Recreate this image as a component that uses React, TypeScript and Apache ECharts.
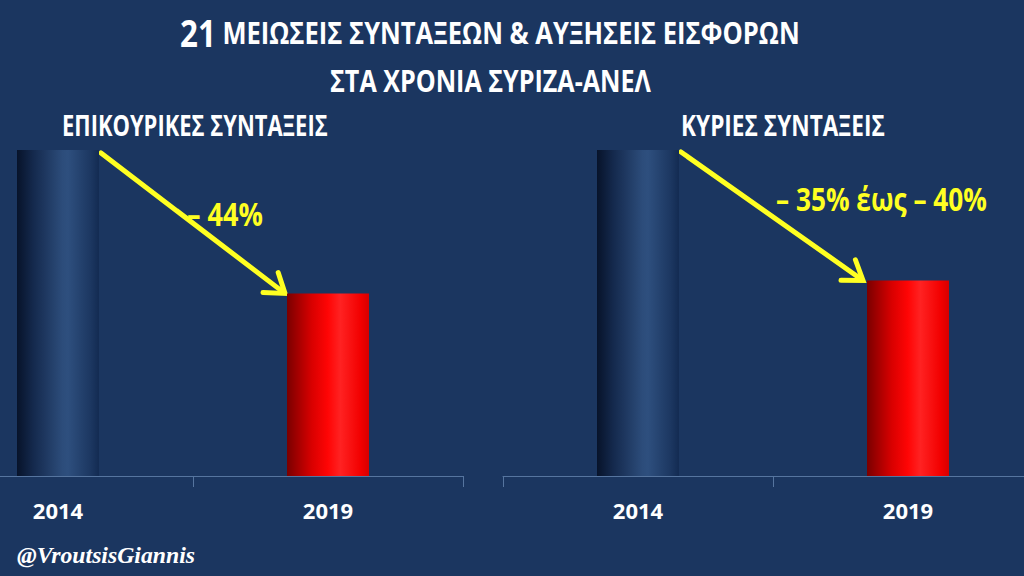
import React, { useEffect, useRef } from "react";
import * as echarts from "echarts";

const categories = ["2014", "2019"];
const auxiliaryPensions = [100, 56];
const mainPensions = [100, 60];
const titleNumber = "21";
const titleLine1 = "ΜΕΙΩΣΕΙΣ ΣΥΝΤΑΞΕΩΝ & ΑΥΞΗΣΕΙΣ ΕΙΣΦΟΡΩΝ";
const titleLine2 = "ΣΤΑ ΧΡΟΝΙΑ ΣΥΡΙΖΑ-ΑΝΕΛ";
const leftTitle = "ΕΠΙΚΟΥΡΙΚΕΣ ΣΥΝΤΑΞΕΙΣ";
const rightTitle = "ΚΥΡΙΕΣ ΣΥΝΤΑΞΕΙΣ";
const leftChange = "– 44%";
const rightChange = "– 35% έως – 40%";
const handle = "@VroutsisGiannis";

const FONT = "'Open Sans', 'Noto Sans', sans-serif";
const SERIF = "'Liberation Serif', 'DejaVu Serif', serif";
const BG = "#1b3660";
const YELLOW = "#ffff22";
const OFF = 77; // the left chart's axis starts off the left edge of the picture

const blueGrad = () =>
  new echarts.graphic.LinearGradient(0, 0, 1, 0, [
    { offset: 0, color: "#07132a" },
    { offset: 0.2, color: "#14294d" },
    { offset: 0.55, color: "#2c4c7a" },
    { offset: 0.62, color: "#2e4f7e" },
    { offset: 0.9, color: "#1c3761" },
    { offset: 1, color: "#132b52" },
  ]);
const redGrad = () =>
  new echarts.graphic.LinearGradient(0, 0, 1, 0, [
    { offset: 0, color: "#7a0000" },
    { offset: 0.3, color: "#d80000" },
    { offset: 0.5, color: "#ff0505" },
    { offset: 0.65, color: "#ff2222" },
    { offset: 0.9, color: "#f20000" },
    { offset: 1, color: "#d60000" },
  ]);

const mkData = (vals: number[]) =>
  vals.map((v, i) => ({ value: v, itemStyle: { color: i === 0 ? blueGrad() : redGrad() } }));

const xAxisBase = (gridIndex: number) => ({
  type: "category",
  gridIndex,
  data: categories,
  axisLine: { lineStyle: { color: "#56759f", width: 1 } },
  axisTick: { show: true, length: 11, lineStyle: { color: "#56759f" } },
  axisLabel: {
    color: "#ffffff",
    fontSize: 22,
    fontWeight: "bold",
    fontFamily: FONT,
    margin: 23,
  },
});

const yAxisBase = (gridIndex: number) => ({
  type: "value",
  gridIndex,
  min: 0,
  max: 100,
  show: false,
});

let ctx: CanvasRenderingContext2D | null = null;
function measure(text: string, font: string) {
  if (!ctx) ctx = document.createElement("canvas").getContext("2d");
  if (!ctx) return 1;
  ctx.font = font;
  return ctx.measureText(text).width || 1;
}

function arrow(x1: number, y1: number, x2: number, y2: number) {
  const ang = Math.atan2(y2 - y1, x2 - x1);
  const len = 22;
  const spread = Math.PI / 5.2;
  const a1 = ang + Math.PI - spread;
  const a2 = ang + Math.PI + spread;
  return [
    {
      type: "line",
      shape: { x1, y1, x2: x2 - Math.cos(ang) * 3, y2: y2 - Math.sin(ang) * 3 },
      style: { stroke: YELLOW, lineWidth: 5, lineCap: "round" },
    },
    {
      type: "polyline",
      shape: {
        points: [
          [x2 + Math.cos(a1) * len, y2 + Math.sin(a1) * len],
          [x2, y2],
          [x2 + Math.cos(a2) * len, y2 + Math.sin(a2) * len],
        ],
      },
      style: { stroke: YELLOW, lineWidth: 5, lineJoin: "miter", lineCap: "round", fill: null },
    },
  ];
}

function fitText(
  text: string,
  x: number,
  y: number,
  size: number,
  targetW: number,
  extra: Record<string, unknown> = {}
) {
  const w = measure(text, `bold ${size}px ${FONT}`);
  return {
    type: "text",
    x: x + OFF,
    y,
    scaleX: targetW / w,
    style: {
      text,
      fill: "#ffffff",
      fontFamily: FONT,
      fontWeight: "bold",
      fontSize: size,
      align: "left",
      verticalAlign: "middle",
      ...extra,
    },
  };
}

export default function App() {
  const ref = useRef<HTMLDivElement>(null);
  useEffect(() => {
    if (!ref.current) return;
    const chart = echarts.init(ref.current, undefined, { renderer: "svg" });
    const BAR_W = 82;
    chart.setOption({
      animation: false,
      backgroundColor: BG,
      grid: [
        { left: 0, top: 150, width: 540, height: 326 },
        { left: 580, top: 150, width: 540, height: 326 },
      ],
      xAxis: [xAxisBase(0), xAxisBase(1)],
      yAxis: [yAxisBase(0), yAxisBase(1)],
      series: [
        { type: "bar", xAxisIndex: 0, yAxisIndex: 0, barWidth: BAR_W, data: mkData(auxiliaryPensions) },
        { type: "bar", xAxisIndex: 1, yAxisIndex: 1, barWidth: BAR_W, data: mkData(mainPensions) },
      ],
    });

    const half = BAR_W / 2;
    const l0 = chart.convertToPixel({ gridIndex: 0 }, [0, auxiliaryPensions[0]]) as number[];
    const l1 = chart.convertToPixel({ gridIndex: 0 }, [1, auxiliaryPensions[1]]) as number[];
    const r0 = chart.convertToPixel({ gridIndex: 1 }, [0, mainPensions[0]]) as number[];
    const r1 = chart.convertToPixel({ gridIndex: 1 }, [1, mainPensions[1]]) as number[];

    // title line 1 with a bigger number
    const nW = measure(titleNumber, `bold 38px ${FONT}`);
    const sW = measure(" ", `bold 31px ${FONT}`);
    const tW = measure(titleLine1, `bold 31px ${FONT}`);
    const title1Scale = 620 / (nW + sW + tW);

    const handleW = measure(handle, `italic bold 23px ${SERIF}`);

    chart.setOption({
      graphic: [
        {
          type: "text",
          x: 180 + OFF,
          y: 32,
          scaleX: title1Scale,
          style: {
            text: `{n|${titleNumber}}{t| ${titleLine1}}`,
            align: "left",
            verticalAlign: "middle",
            rich: {
              n: { fill: "#ffffff", fontFamily: FONT, fontWeight: "bold", fontSize: 38 },
              t: { fill: "#ffffff", fontFamily: FONT, fontWeight: "bold", fontSize: 31 },
            },
          },
        },
        fitText(titleLine2, 330, 80, 31, 321),
        fitText(leftTitle, 62, 125, 29, 266),
        fitText(rightTitle, 681, 125, 29, 204),
        ...arrow(l0[0] + half + 2, l0[1] + 3, l1[0] - half - 2, l1[1]),
        ...arrow(r0[0] + half + 2, r0[1] + 2, r1[0] - half - 4, r1[1]),
        fitText(leftChange, 187, 213, 33, 76, { fill: YELLOW }),
        fitText(rightChange, 776, 198, 33, 211, { fill: YELLOW }),
        {
          type: "text",
          x: 17 + OFF,
          y: 555,
          scaleX: 178 / handleW,
          style: {
            text: handle,
            fill: "#ffffff",
            fontFamily: SERIF,
            fontWeight: "bold",
            fontStyle: "italic",
            fontSize: 23,
            align: "left",
            verticalAlign: "middle",
          },
        },
      ],
    });
    return () => chart.dispose();
  }, []);
  return (
    <div
      ref={ref}
      style={{ position: "fixed", left: -OFF, top: 0, width: 1024 + OFF + 20, height: 576 }}
    />
  );
}
